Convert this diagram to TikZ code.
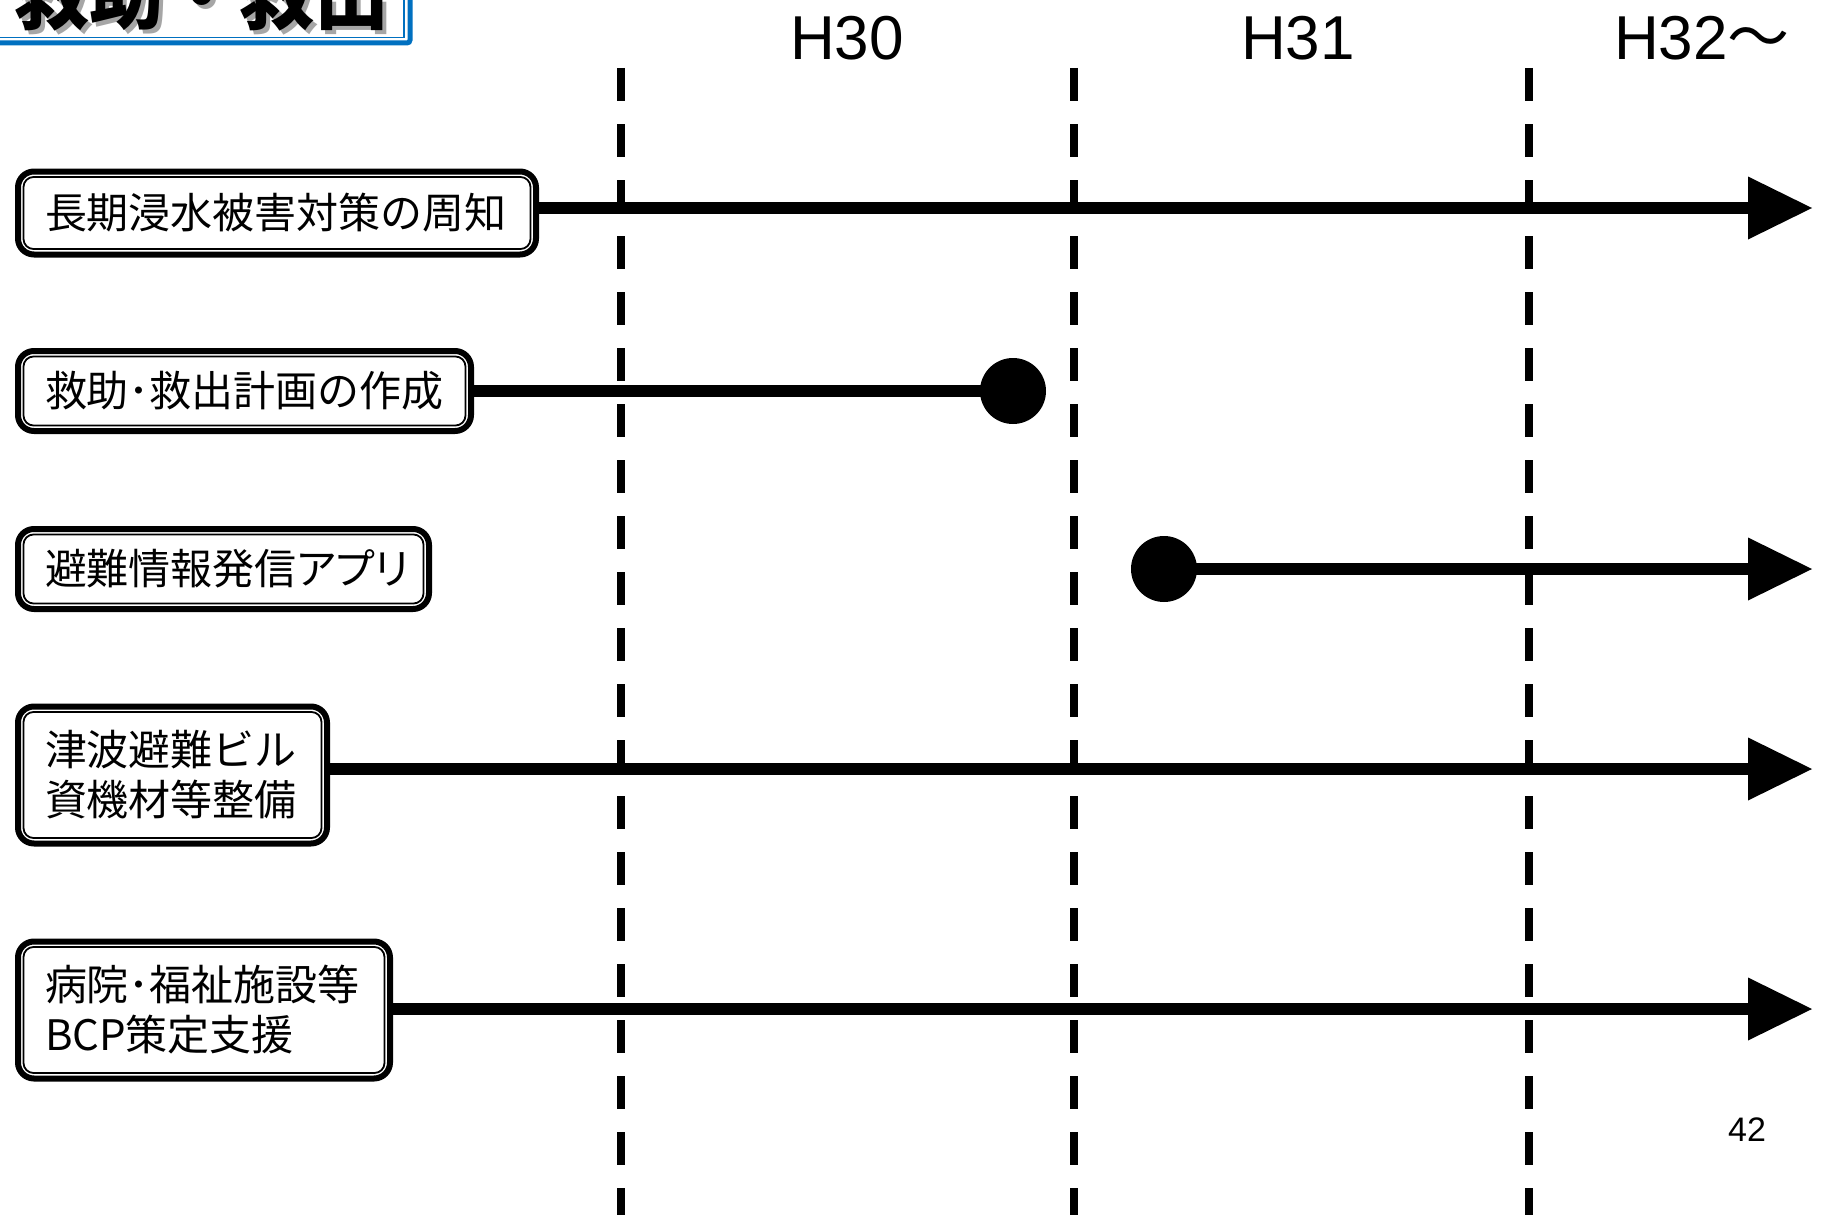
\documentclass[tikz,border=0pt]{standalone}
\usepackage{fontspec}
\setmainfont{Liberation Sans}
\newfontfamily\cjk{Noto Sans CJK JP}
\newfontfamily\cjkblack{Noto Sans CJK JP Black}
\usetikzlibrary{arrows.meta,calc}
\definecolor{titleblue}{RGB}{0,112,192}
\newcommand\boxinner[1]{\draw[line width=1.8pt, rounded corners=10pt] ($(#1.south west)+(8.5,-8.5)$) rectangle ($(#1.north east)+(-8.5,8.5)$);}
\begin{document}
\begin{tikzpicture}[x=1pt,y=-1pt,
  gridline/.style={line width=8pt, dash pattern=on 33pt off 23pt},
  conn/.style={line width=12.5pt},
  arr/.style={conn, -{Triangle[length=64pt 0 0,width=63pt 0 0,line width=0pt 0 0]}},
  dot/.style={circle, fill=black, inner sep=0pt, minimum size=66pt},
  box/.style={draw, line width=6pt, rounded corners=16pt, fill=white, inner xsep=27pt, inner ysep=0pt, align=left, anchor=west, font=\cjk\fontsize{42}{50}\selectfont},
  yr/.style={font=\fontsize{62}{62}\selectfont},
]
\useasboundingbox (0,0) rectangle (1824,1215);
\clip (0,0) rectangle (1824,1215);

% title box
\fill[white] (-30,-200) rectangle (410,43);
\draw[titleblue, line width=5pt, rounded corners=3pt] (-30,-200) rectangle (410,43);
\draw[titleblue, line width=1.5pt] (-30,-200) rectangle (404,37.5);
\node[text=black!35, font=\cjkblack\fontsize{75}{75}\selectfont, anchor=base] (titleshadow) at (206,27.5) {救助・救出};
\node[font=\cjkblack\fontsize{75}{75}\selectfont, anchor=base] (title) at (202,23.5) {救助・救出};

% year labels
\node[yr] (y30) at (847,38) {H30};
\node[yr] (y31) at (1298,38) {H31};
\node[yr] (y32) at (1702,38) {H32{\cjk 〜}};

% dashed year separators
\foreach \x/\n in {621/1,1074/2,1529/3} {
  \coordinate (vt\n) at (\x,68);
  \coordinate (vb\n) at (\x,1240);
  \draw[gridline] (vt\n) -- (vb\n);
}

% boxes
\node[box, text width=464pt, minimum height=83pt] (b1) at (15,213) {長期浸水被害対策の周知};
\boxinner{b1}
\node[box, text width=399pt, minimum height=80pt] (b2) at (15,391) {救助･救出計画の作成};
\boxinner{b2}
\node[box, text width=357pt, minimum height=80pt] (b3) at (15,569) {避難情報発信{\addfontfeatures{RawFeature=+palt}アプリ}};
\boxinner{b3}
\node[box, text width=255pt, minimum height=137pt] (b4) at (15,775) {津波避難ビル\\資機材等整備};
\boxinner{b4}
\node[box, text width=318pt, minimum height=137pt] (b5) at (15,1010) {病院･福祉施設等\\BCP策定支援};
\boxinner{b5}

% dots and ends
\node[dot] (d2) at (1013,391) {};
\node[dot] (d3) at (1164,569) {};
\coordinate (e1) at (1812,208);
\coordinate (e3) at (1812,569);
\coordinate (e4) at (1812,769);
\coordinate (e5) at (1812,1009);

% connectors
\draw[arr] (b1.east |- e1) -- (e1);
\draw[conn] (b2.east) -- (d2.center);
\draw[arr] (d3.center) -- (e3);
\draw[arr] (b4.east |- e4) -- (e4);
\draw[arr] (b5.east |- e5) -- (e5);

% page number
\node[font=\fontsize{34}{34}\selectfont] (pg) at (1747,1130) {42};
\end{tikzpicture}
\end{document}
